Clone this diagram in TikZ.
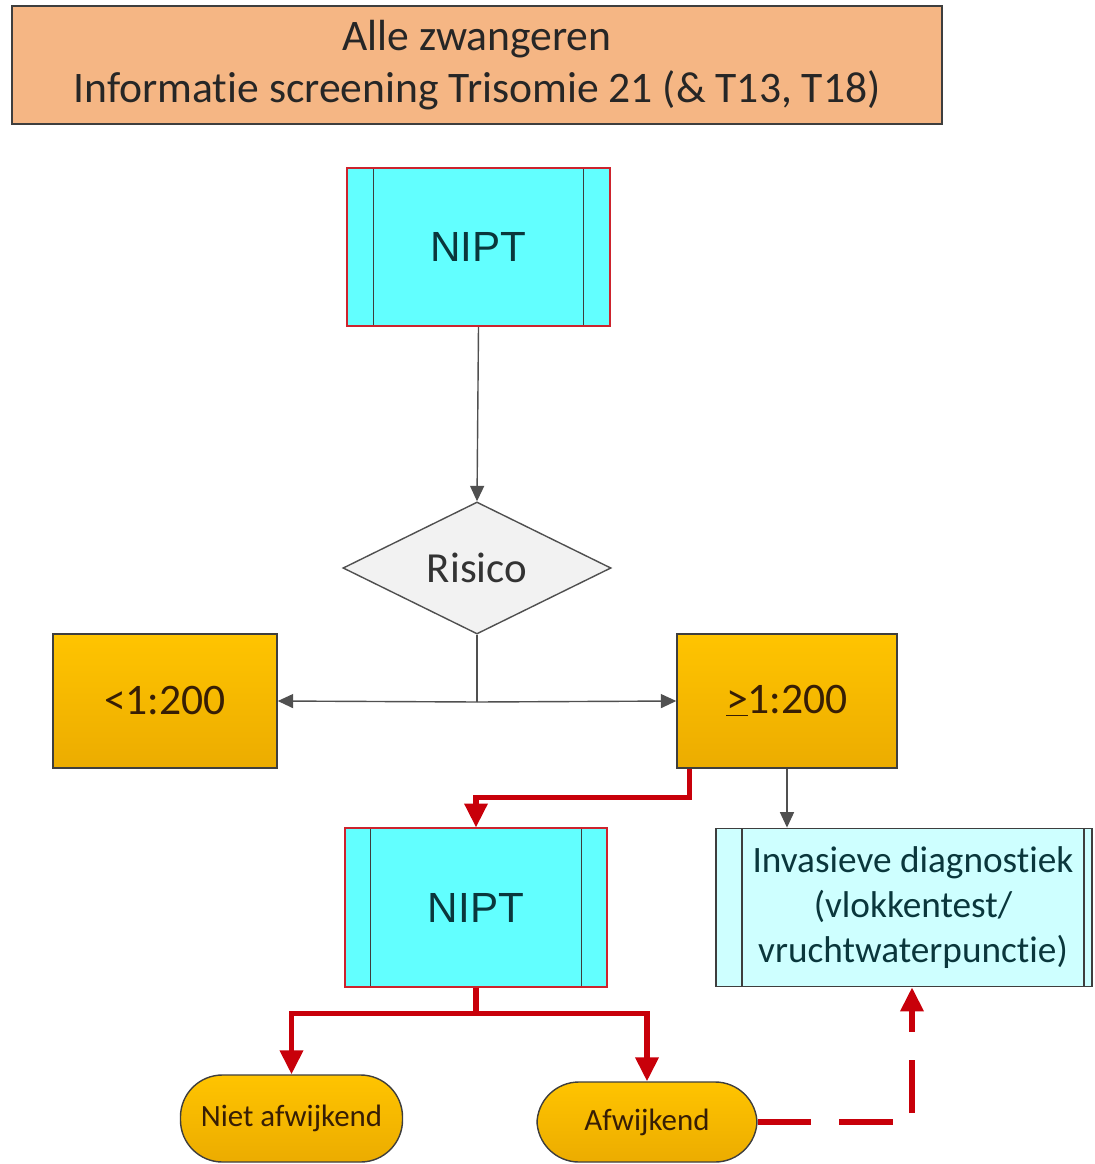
\documentclass[tikz,border=0pt]{standalone}
\usepackage{fontspec}
\setmainfont{Carlito}[RawFeature={-liga;-clig;-calt;-dlig}]
\newfontfamily\niptfont{Liberation Sans}
\usepackage{xcolor}
\usetikzlibrary{arrows.meta,shapes.geometric,positioning}

\definecolor{titelfill}{RGB}{245,182,132}
\definecolor{niptfill}{RGB}{98,255,255}
\definecolor{niptrand}{RGB}{205,35,45}
\definecolor{invfill}{RGB}{206,255,255}
\definecolor{goudboven}{RGB}{255,196,0}
\definecolor{goudonder}{RGB}{236,172,0}
\definecolor{rand}{RGB}{62,62,62}
\definecolor{tekstbruin}{RGB}{55,30,5}
\definecolor{tekstteal}{RGB}{10,55,60}
\definecolor{pijlrood}{RGB}{200,0,10}
\definecolor{pijlgrijs}{RGB}{80,80,80}

\tikzset{
  titelbox/.style={rectangle, draw=rand, line width=1.2pt, fill=titelfill,
    minimum width=23.25cm, minimum height=2.95cm, align=center,
    font=\fontsize{31}{37}\selectfont, text=black!85},
  zijlijnen/.style={path picture={
    \draw[rand, line width=1pt]
      ([xshift=#1]path picture bounding box.north west) --
      ([xshift=#1]path picture bounding box.south west)
      ([xshift=-#1]path picture bounding box.north east) --
      ([xshift=-#1]path picture bounding box.south east);}},
  niptbox/.style={rectangle, draw=niptrand, line width=1.2pt, fill=niptfill,
    minimum width=6.56cm, minimum height=3.96cm, zijlijnen=0.65cm,
    font=\niptfont\fontsize{30}{36}\selectfont, text=tekstteal},
  invbox/.style={rectangle, draw=rand, line width=1pt, fill=invfill,
    minimum width=9.4cm, minimum height=3.96cm, align=center,
    font=\fontsize{26.5}{32}\selectfont, text=tekstteal,
    path picture={
    \draw[rand, line width=1pt]
      ([xshift=0.65cm]path picture bounding box.north west) --
      ([xshift=0.65cm]path picture bounding box.south west)
      ([xshift=-0.2cm]path picture bounding box.north east) --
      ([xshift=-0.2cm]path picture bounding box.south east);}},
  ruitbox/.style={diamond, draw=pijlgrijs, line width=1pt, fill=black!5,
    minimum width=6.7cm, minimum height=3.3cm, inner sep=0pt,
    font=\fontsize{30.5}{36}\selectfont, text=black!80},
  goudbox/.style={rectangle, draw=rand, line width=1pt,
    top color=goudboven, bottom color=goudonder,
    minimum height=3.35cm, font=\fontsize{31}{36}\selectfont, text=tekstbruin},
  eindbox/.style={rectangle, rounded corners=1.05cm, draw=rand, line width=1pt,
    top color=goudboven, bottom color=goudonder,
    minimum width=5.55cm, font=\fontsize{22}{26}\selectfont, text=tekstbruin},
  grijspijl/.style={draw=pijlgrijs, line width=1pt,
    -{Triangle[width=10pt,length=11pt]}},
  rodepijl/.style={draw=pijlrood, line width=3.6pt,
    -{Triangle[width=16pt,length=17pt]}},
  rodelijn/.style={draw=pijlrood, line width=3.6pt}
}

\begin{document}
\begin{tikzpicture}[x=0.025cm,y=-0.025cm]
    \useasboundingbox (0,0) rectangle (1094,1164);
    \node[titelbox] (titel) at (477,65)
      {Alle zwangeren\\Informatie screening Trisomie 21 (\& T13, T18)};
    \node[niptbox] (nipt1) at (478.5,247) {NIPT};
    \node[ruitbox] (risico) at (477,568) {Risico};
    \node[goudbox, minimum width=5.6cm] (laag) at (165,701) {<1:200};
    \node[goudbox, minimum width=5.5cm] (hoog) at (787,701) {\underline{>}1:200};
    \node[niptbox] (nipt2) at (476,907.5) {NIPT};
    \node[invbox] (invasief) at (904,907.5)
      {\hspace*{0.45cm}Invasieve diagnostiek\\\hspace*{0.45cm}(vlokkentest/\\\hspace*{0.45cm}vruchtwaterpunctie)};
    \node[eindbox, minimum height=2.175cm] (normaal) at (291.5,1118.5) {Niet afwijkend};
    \node[eindbox, minimum height=2cm, minimum width=5.5cm] (afwijkend) at (647,1122) {Afwijkend};
    \coordinate (split) at (477,702);
    % grijze verbindingen
    \draw[grijspijl] (nipt1.south) -- (risico.north);
    \draw[draw=pijlgrijs, line width=1pt] (risico.south) -- (split);
    \foreach \doel/\anker in {laag/east,hoog/west}
    \draw[grijspijl] (split) -- (\doel.\anker);
    \draw[grijspijl] (hoog.south) -- (hoog.south |- invasief.north);
    % rode verbindingen
    \draw[rodepijl] ([xshift=0.325cm]hoog.south west) -- ++(0,29) -| (nipt2.north);
    \draw[rodelijn] (nipt2.south) -- ++(0,26) coordinate (vork);
    \foreach \doel in {normaal,afwijkend}
    \draw[rodepijl] (vork) -| (\doel.north);
    \draw[rodepijl, dash pattern=on 38pt off 20pt]
      (afwijkend.east) -| ([xshift=0.2cm]invasief.south);
\end{tikzpicture}
\end{document}
